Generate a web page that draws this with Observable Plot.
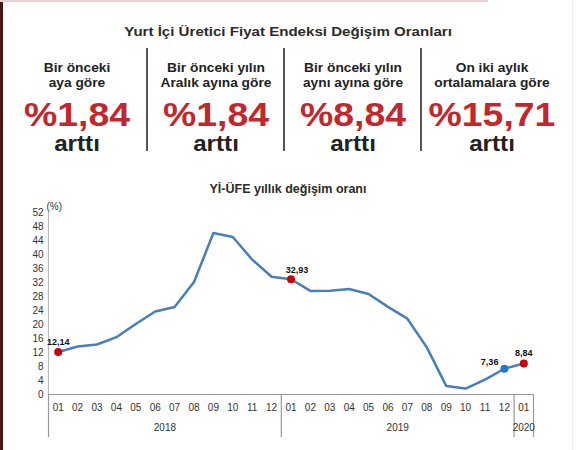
<!DOCTYPE html>
<html>
<head>
<meta charset="utf-8">
<script src="https://cdn.jsdelivr.net/npm/d3@7"></script>
<script src="https://cdn.jsdelivr.net/npm/@observablehq/plot@0.6"></script>
<style>
  body { margin: 0; background: #fff; font-family: "Liberation Sans", Arial, sans-serif; }
  #page { position: relative; width: 576px; height: 450px; overflow: hidden; background: #fff; }
  #edge { position: absolute; left: 0; top: 0; width: 3px; height: 450px; background: #4b1518; }
  #topline { position: absolute; left: 0; top: 0; width: 488px; height: 2px; background: #ecd2d2; }
  #rightline { position: absolute; left: 572px; top: 0; width: 1px; height: 450px; background: #eeeeee; }
  #head { position: relative; height: 200px; }
  .title { position: absolute; left: 0; width: 576px; text-align: center; font-weight: bold; color: #2b2b2b; font-size: 13px; }
  .title.main { transform: scaleX(1.16); }
  .title.sub { font-size: 12.5px; }
  .card { position: absolute; top: 61px; text-align: center; color: #222; font-weight: bold; transform: scaleX(1.1); }
  .card .cap { font-size: 12.5px; line-height: 15px; height: 30px; white-space: nowrap; }
  .card .num { font-size: 34px; line-height: 36px; color: #c1272d; margin-top: 5px; white-space: nowrap; }
  .card .verb { font-size: 22px; line-height: 24px; }
  .sep { position: absolute; top: 48px; width: 2px; height: 103px; background: #555; }
  #chart { position: absolute; left: 0; top: 200px; }
</style>
</head>
<body>
<div id="page">
  <div id="edge"></div>
  <div id="topline"></div>
  <div id="rightline"></div>
  <div id="head"></div>
  <div id="chart"></div>
</div>
<script>
// ust bolum
const mainTitle = "Yurt İçi Üretici Fiyat Endeksi Değişim Oranları";
const cardCaptions = [
  ["Bir önceki", "aya göre"],
  ["Bir önceki yılın", "Aralık ayına göre"],
  ["Bir önceki yılın", "aynı ayına göre"],
  ["On iki aylık", "ortalamalara göre"]
];
const cardValues = [1.84, 1.84, 8.84, 15.71];
const cardVerb = "arttı";

// grafik
const chartTitle = "Yİ-ÜFE yıllık değişim oranı";
const yearLabels = ["2018", "2019", "2020"];
const monthLabels = ["01","02","03","04","05","06","07","08","09","10","11","12",
                     "01","02","03","04","05","06","07","08","09","10","11","12",
                     "01"];
const yiufe = [12.14, 13.71, 14.28, 16.37, 20.16, 23.71, 25.00, 32.13, 46.15, 45.01, 38.54, 33.64,
               32.93, 29.59, 29.64, 30.12, 28.71, 25.04, 21.66, 13.45, 2.45, 1.70, 4.26, 7.36,
               8.84];
const yTicks = [0, 4, 8, 12, 16, 20, 24, 28, 32, 36, 40, 44, 48, 52];
const redPoints = [0, 12, 24];
const bluePoints = [23];

const trNum = v => v.toFixed(2).replace(".", ",");

// kartlar
const head = d3.select("#head");
head.append("div").attr("class", "title main").style("top", "24px").text(mainTitle);
const cardCenters = [77, 216, 353, 492];
const sepX = [146, 283, 420];
cardValues.forEach((v, k) => {
  const c = head.append("div").attr("class", "card")
    .style("left", (cardCenters[k] - 75) + "px").style("width", "150px");
  c.append("div").attr("class", "cap").html(cardCaptions[k].join("<br>"));
  c.append("div").attr("class", "num").text("%" + trNum(v));
  c.append("div").attr("class", "verb").text(cardVerb);
});
sepX.forEach(x => head.append("div").attr("class", "sep").style("left", x + "px"));
head.append("div").attr("class", "title sub").style("top", "182px").text(chartTitle);

// veri tablosu
let yi = -1;
const data = monthLabels.map((m, i) => {
  if (m === "01") yi++;
  return {i, month: m, year: yearLabels[yi], value: yiufe[i]};
});
const yearGroups = d3.groups(data, d => d.year).map(([year, rows]) => ({
  year,
  x: d3.mean(rows, d => d.i),
  start: rows[0].i - 0.5
}));
const boundaries = [...yearGroups.map(d => d.start), data.length - 0.5];
const labelText = d => trNum(d.value);

const chart = Plot.plot({
  width: 576,
  height: 250,
  marginTop: 12,
  marginBottom: 56,
  marginLeft: 48,
  marginRight: 43,
  style: {fontFamily: "Liberation Sans, Arial, sans-serif", fontSize: "10px", color: "#333", background: "transparent", overflow: "visible"},
  x: {domain: [-0.5, data.length - 0.5]},
  y: {domain: [0, 52]},
  marks: [
    Plot.axisY({ticks: yTicks, tickSize: 0, tickPadding: 5, label: null}),
    Plot.text(["(%)"], {frameAnchor: "top-left", textAnchor: "start", dx: -2, dy: -10, fill: "#333"}),
    Plot.axisX({ticks: data.map(d => d.i), tickFormat: i => monthLabels[i], tickSize: 0, tickPadding: 9, label: null}),
    Plot.ruleX([boundaries[0]], {stroke: "#bbb", strokeWidth: 1.2}),
    Plot.ruleX(boundaries, {y1: 0, y2: -12.3, stroke: "#999", strokeWidth: 1.2}),
    Plot.ruleY([0], {stroke: "#999", strokeWidth: 1.2}),
    Plot.text(yearGroups, {x: "x", text: "year", frameAnchor: "bottom", dy: 36, fill: "#333"}),
    Plot.line(data, {x: "i", y: "value", stroke: "#4a7ebb", strokeWidth: 2.5}),
    Plot.dot(redPoints.map(i => data[i]), {x: "i", y: "value", r: 4, fill: "#c8000a"}),
    Plot.dot(bluePoints.map(i => data[i]), {x: "i", y: "value", r: 4, fill: "#2277c9"}),
    Plot.text([data[0], data[24]], {x: "i", y: "value", text: labelText, dy: -10, fontWeight: "bold", fontSize: 9, fill: "#111"}),
    Plot.text([data[12]], {x: "i", y: "value", text: labelText, dx: 6, dy: -9, fontWeight: "bold", fontSize: 9, fill: "#111"}),
    Plot.text(bluePoints.map(i => data[i]), {x: "i", y: "value", text: labelText, textAnchor: "end", dx: -6, dy: -7, fontWeight: "bold", fontSize: 9, fill: "#111"})
  ]
});
d3.select("#chart").append(() => chart);
</script>
</body>
</html>
